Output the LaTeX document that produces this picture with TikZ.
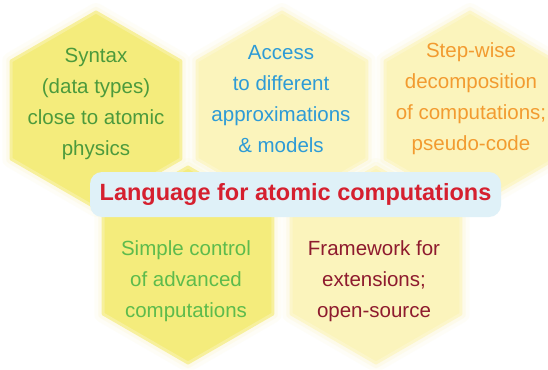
\documentclass[tikz,border=0pt]{standalone}
\usepackage{fontspec}
\setmainfont{Liberation Sans}
\definecolor{hexStrong}{HTML}{F4EC7C}
\definecolor{hexStrongBand}{HTML}{F7F09C}
\definecolor{hexPale}{HTML}{FBF4BC}
\definecolor{hexPaleBand}{HTML}{FCF6CA}
\definecolor{glowCol}{HTML}{FBF5C4}
\definecolor{boxCol}{HTML}{DFF1F8}
\definecolor{txtGreenDark}{HTML}{4C9A3C}
\definecolor{txtGreen}{HTML}{5DBB4C}
\definecolor{txtBlue}{HTML}{2D9BD6}
\definecolor{txtOrange}{HTML}{F29B30}
\definecolor{txtDarkRed}{HTML}{8E1B2E}
\definecolor{txtRed}{HTML}{D5202F}
\newcommand\hexoutline[3]{%
  (#1,#2) +(90:#3) -- +(150:#3) -- +(210:#3) -- +(270:#3) -- +(330:#3) -- +(30:#3) -- cycle}
\newcommand\hexcell[4]{%
  \path[draw=glowCol, line width=16pt, opacity=0.12, line join=round] \hexoutline{#1}{#2}{99};
  \path[draw=glowCol, line width=8pt, opacity=0.25, line join=round] \hexoutline{#1}{#2}{99};
  \path[fill=#3, draw=#4, line width=3pt, line join=round] \hexoutline{#1}{#2}{98};
}
\begin{document}
\begin{tikzpicture}[x=1pt,y=1pt,
  hextext/.style={align=center, inner sep=0pt, font=\fontsize{20.5}{31}\selectfont},
  labeltext/.style={font=\fontsize{23.5}{28}\selectfont\bfseries, text=txtRed, inner sep=0pt}]
\useasboundingbox (0,0) rectangle (548,-369);
\fill[white] (0,0) rectangle (548,-369);
% top row
\hexcell{96}{-110}{hexStrong}{hexStrongBand}
\hexcell{282}{-110}{hexPale}{hexPaleBand}
\hexcell{470}{-110}{hexPale}{hexPaleBand}
% bottom row
\hexcell{188}{-265}{hexStrong}{hexStrongBand}
\hexcell{376}{-265}{hexPale}{hexPaleBand}
% central label
\node[fill=boxCol, rounded corners=12pt, minimum width=411pt, minimum height=45pt, inner sep=0pt] (box) at (295.5,-194.5) {};
\node[labeltext] (label) at (box.center) {Language for atomic computations};
% texts
\node[hextext, text=txtGreenDark] (t1) at (96,-104) {Syntax\\(data types)\\close to atomic\\physics};
\node[hextext, text=txtBlue] (t2) at (281,-99) {Access\\to different\\approximations\\\& models};
\node[hextext, text=txtOrange] (t3) at (471,-99) {Step-wise\\decomposition\\of computations;\\pseudo-code};
\node[hextext, text=txtGreen] (t4) at (186,-281) {Simple control\\of advanced\\computations};
\node[hextext, text=txtDarkRed] (t5) at (374,-281) {Framework for\\extensions;\\open-source};
\end{tikzpicture}
\end{document}
